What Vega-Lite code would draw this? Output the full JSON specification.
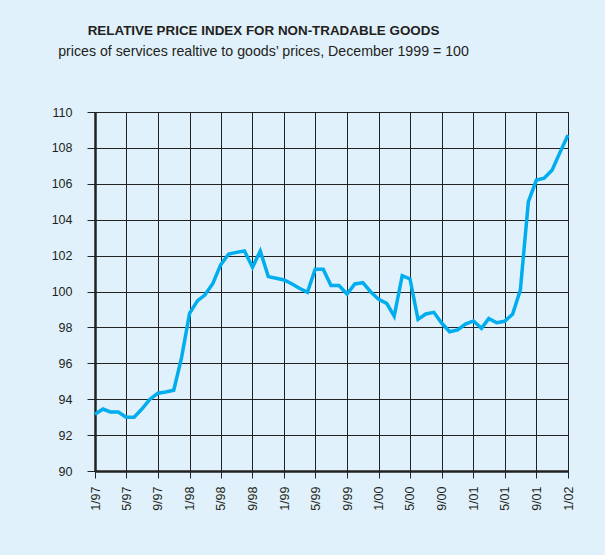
{
  "$schema": "https://vega.github.io/schema/vega-lite/v6.json",
  "width": 473,
  "height": 359,
  "autosize": {"type": "none"},
  "padding": {"left": 95, "top": 112, "right": 37, "bottom": 84},
  "background": "#e0f1fb",
  "title": {
    "text": "RELATIVE PRICE INDEX FOR NON-TRADABLE GOODS",
    "subtitle": "prices of services realtive to goods’ prices, December 1999 = 100",
    "anchor": "middle",
    "frame": "group",
    "dx": -68,
    "offset": 47,
    "font": "Liberation Sans",
    "fontSize": 13.4,
    "fontWeight": "bold",
    "color": "#231f20",
    "subtitleFont": "Liberation Sans",
    "subtitleFontSize": 14.2,
    "subtitleColor": "#231f20",
    "subtitlePadding": 7
  },
  "data": {
    "values": [
      {"date": "1997-01-01", "value": 93.16},
      {"date": "1997-02-01", "value": 93.45},
      {"date": "1997-03-01", "value": 93.29},
      {"date": "1997-04-01", "value": 93.29},
      {"date": "1997-05-01", "value": 93.0},
      {"date": "1997-06-01", "value": 93.0},
      {"date": "1997-07-01", "value": 93.45},
      {"date": "1997-08-01", "value": 94.0},
      {"date": "1997-09-01", "value": 94.33},
      {"date": "1997-10-01", "value": 94.4},
      {"date": "1997-11-01", "value": 94.5},
      {"date": "1997-12-01", "value": 96.3},
      {"date": "1998-01-01", "value": 98.78},
      {"date": "1998-02-01", "value": 99.49},
      {"date": "1998-03-01", "value": 99.8},
      {"date": "1998-04-01", "value": 100.45},
      {"date": "1998-05-01", "value": 101.48},
      {"date": "1998-06-01", "value": 102.09},
      {"date": "1998-07-01", "value": 102.18},
      {"date": "1998-08-01", "value": 102.26},
      {"date": "1998-09-01", "value": 101.35},
      {"date": "1998-10-01", "value": 102.26},
      {"date": "1998-11-01", "value": 100.83},
      {"date": "1998-12-01", "value": 100.74},
      {"date": "1999-01-01", "value": 100.64},
      {"date": "1999-02-01", "value": 100.42},
      {"date": "1999-03-01", "value": 100.18},
      {"date": "1999-04-01", "value": 99.96},
      {"date": "1999-05-01", "value": 101.24},
      {"date": "1999-06-01", "value": 101.24},
      {"date": "1999-07-01", "value": 100.33},
      {"date": "1999-08-01", "value": 100.33},
      {"date": "1999-09-01", "value": 99.86},
      {"date": "1999-10-01", "value": 100.42},
      {"date": "1999-11-01", "value": 100.49},
      {"date": "1999-12-01", "value": 99.99},
      {"date": "2000-01-01", "value": 99.56},
      {"date": "2000-02-01", "value": 99.34},
      {"date": "2000-03-01", "value": 98.63},
      {"date": "2000-04-01", "value": 100.88},
      {"date": "2000-05-01", "value": 100.7},
      {"date": "2000-06-01", "value": 98.45},
      {"date": "2000-07-01", "value": 98.75},
      {"date": "2000-08-01", "value": 98.84},
      {"date": "2000-09-01", "value": 98.23},
      {"date": "2000-10-01", "value": 97.76},
      {"date": "2000-11-01", "value": 97.86},
      {"date": "2000-12-01", "value": 98.19},
      {"date": "2001-01-01", "value": 98.36},
      {"date": "2001-02-01", "value": 97.95},
      {"date": "2001-03-01", "value": 98.49},
      {"date": "2001-04-01", "value": 98.26},
      {"date": "2001-05-01", "value": 98.34},
      {"date": "2001-06-01", "value": 98.73},
      {"date": "2001-07-01", "value": 100.08},
      {"date": "2001-08-01", "value": 105.0},
      {"date": "2001-09-01", "value": 106.21},
      {"date": "2001-10-01", "value": 106.31},
      {"date": "2001-11-01", "value": 106.77},
      {"date": "2001-12-01", "value": 107.75},
      {"date": "2002-01-01", "value": 108.72}
    ]
  },
  "mark": {"type": "line", "color": "#00adef", "strokeWidth": 3.5, "strokeJoin": "miter", "clip": false},
  "encoding": {
    "x": {
      "field": "date",
      "type": "temporal",
      "scale": {"type": "utc", "domain": ["1997-01-01", "2002-01-01"], "nice": false},
      "axis": {
        "title": null,
        "tickCount": {"interval": "month", "step": 4},
        "labelExpr": "utcFormat(datum.value, '%-m/%y')",
        "labelAngle": -90,
        "labelAlign": "right",
        "labelBaseline": "middle",
        "labelPadding": 8,
        "labelFont": "Liberation Sans",
        "labelFontSize": 12.5,
        "labelColor": "#231f20",
        "tickSize": 7,
        "tickColor": "#222222",
        "tickWidth": 1,
        "domainColor": "#222222",
        "domainWidth": 2.5,
        "grid": true,
        "gridColor": "#222222",
        "gridWidth": 1,
        "gridOpacity": 1,
        "labelFlush": false,
        "labelOverlap": false
      }
    },
    "y": {
      "field": "value",
      "type": "quantitative",
      "scale": {"domain": [90, 110], "nice": false, "zero": false},
      "axis": {
        "title": null,
        "values": [90, 92, 94, 96, 98, 100, 102, 104, 106, 108, 110],
        "labelFont": "Liberation Sans",
        "labelFontSize": 12.5,
        "labelColor": "#231f20",
        "labelPadding": 15,
        "tickSize": 8,
        "tickColor": "#222222",
        "tickWidth": 1,
        "domainColor": "#222222",
        "domainWidth": 2.5,
        "grid": true,
        "gridColor": "#222222",
        "gridWidth": 1,
        "gridOpacity": 1,
        "labelFlush": false
      }
    }
  },
  "config": {
    "view": {"stroke": "#222222", "strokeWidth": 1}
  }
}
